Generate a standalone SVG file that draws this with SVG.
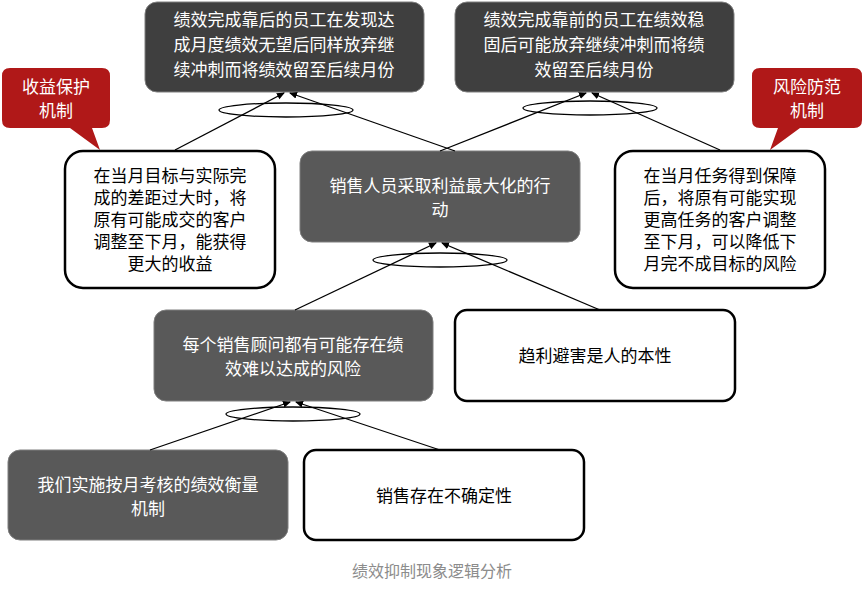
<svg xmlns="http://www.w3.org/2000/svg" width="864" height="591" viewBox="0 0 864 591">
<defs><marker id="ar" markerWidth="8" markerHeight="8" refX="7" refY="4" orient="auto" markerUnits="userSpaceOnUse"><path d="M0,0.5 L8,4 L0,7.5 z" fill="#000"/></marker></defs>
<style>
text{font-family:"Noto Sans CJK SC","Liberation Sans",sans-serif;font-size:17px;text-anchor:middle}
.d{fill:#595959;stroke:#7f7f7f;stroke-width:1}
.k{fill:#3f3f3f;stroke:#7f7f7f}
.w{fill:#fff;stroke:#000;stroke-width:2.5}
.r{fill:#b01818}
.wt{fill:#fff}
.bt{fill:#000}
.c line{stroke:#000;stroke-width:1.3;marker-end:url(#ar)}
.c ellipse{fill:none;stroke:#000;stroke-width:1.3}
</style>
<rect width="864" height="591" fill="#fff"/>
<g id="top1"><rect class="k" x="145" y="2" width="279" height="90" rx="12"/><text class="wt" x="284" y="26">绩效完成靠后的员工在发现达</text><text class="wt" x="284" y="51">成月度绩效无望后同样放弃继</text><text class="wt" x="284" y="76">续冲刺而将绩效留至后续月份</text></g>
<g id="top2"><rect class="k" x="455" y="2" width="279" height="90" rx="12"/><text class="wt" x="594" y="26">绩效完成靠前的员工在绩效稳</text><text class="wt" x="594" y="51">固后可能放弃继续冲刺而将绩</text><text class="wt" x="594" y="76">效留至后续月份</text></g>
<g id="call1"><path class="r" d="M10,68 H102 Q110,68 110,76 V120 Q110,128 102,128 H92 L100,150 L70,128 H10 Q2,128 2,120 V76 Q2,68 10,68z"/><text class="wt" x="56" y="93">收益保护</text><text class="wt" x="56" y="117">机制</text></g>
<g id="call2"><path class="r" d="M760,68 H854 Q862,68 862,76 V120 Q862,128 854,128 H800 L770,150 L778,128 H760 Q752,128 752,120 V76 Q752,68 760,68z"/><text class="wt" x="807" y="93">风险防范</text><text class="wt" x="807" y="117">机制</text></g>
<g id="left"><rect class="w" x="65" y="151" width="210" height="137" rx="18"/><text class="bt" x="170" y="182">在当月目标与实际完</text><text class="bt" x="170" y="204">成的差距过大时，将</text><text class="bt" x="170" y="226">原有可能成交的客户</text><text class="bt" x="170" y="248">调整至下月，能获得</text><text class="bt" x="170" y="270">更大的收益</text></g>
<g id="right"><rect class="w" x="615" y="151" width="210" height="137" rx="18"/><text class="bt" x="720" y="182">在当月任务得到保障</text><text class="bt" x="720" y="204">后，将原有可能实现</text><text class="bt" x="720" y="226">更高任务的客户调整</text><text class="bt" x="720" y="248">至下月，可以降低下</text><text class="bt" x="720" y="270">月完不成目标的风险</text></g>
<g id="center"><rect class="d" x="300" y="151" width="280" height="91" rx="12"/><text class="wt" x="440" y="192">销售人员采取利益最大化的行</text><text class="wt" x="440" y="216">动</text></g>
<g id="mid1"><rect class="d" x="154" y="310" width="279" height="91" rx="12"/><text class="wt" x="293" y="351">每个销售顾问都有可能存在绩</text><text class="wt" x="293" y="375">效难以达成的风险</text></g>
<g id="mid2"><rect class="w" x="455" y="310" width="280" height="91" rx="12"/><text class="bt" x="595" y="362">趋利避害是人的本性</text></g>
<g id="bot1"><rect class="d" x="8" y="450" width="280" height="90" rx="12"/><text class="wt" x="148" y="491">我们实施按月考核的绩效衡量</text><text class="wt" x="148" y="515">机制</text></g>
<g id="bot2"><rect class="w" x="304" y="450" width="280" height="90" rx="12"/><text class="bt" x="444" y="502">销售存在不确定性</text></g>
<g class="c" id="connectors">
<line x1="175" y1="150" x2="284" y2="93"/><line x1="455" y1="151" x2="290" y2="93"/><ellipse cx="286" cy="110" rx="67" ry="7"/>
<line x1="440" y1="151" x2="586" y2="93"/><line x1="720" y1="150" x2="592" y2="93"/><ellipse cx="590" cy="108" rx="67" ry="7"/>
<line x1="295" y1="310" x2="436" y2="243"/><line x1="600" y1="310" x2="442" y2="243"/><ellipse cx="440" cy="260" rx="67" ry="7"/>
<line x1="150" y1="450" x2="290" y2="402"/><line x1="440" y1="450" x2="296" y2="402"/><ellipse cx="293" cy="414" rx="67" ry="7"/>
</g>
<text x="432" y="577" style="fill:#8c8c8c;font-size:16px">绩效抑制现象逻辑分析</text>
</svg>
